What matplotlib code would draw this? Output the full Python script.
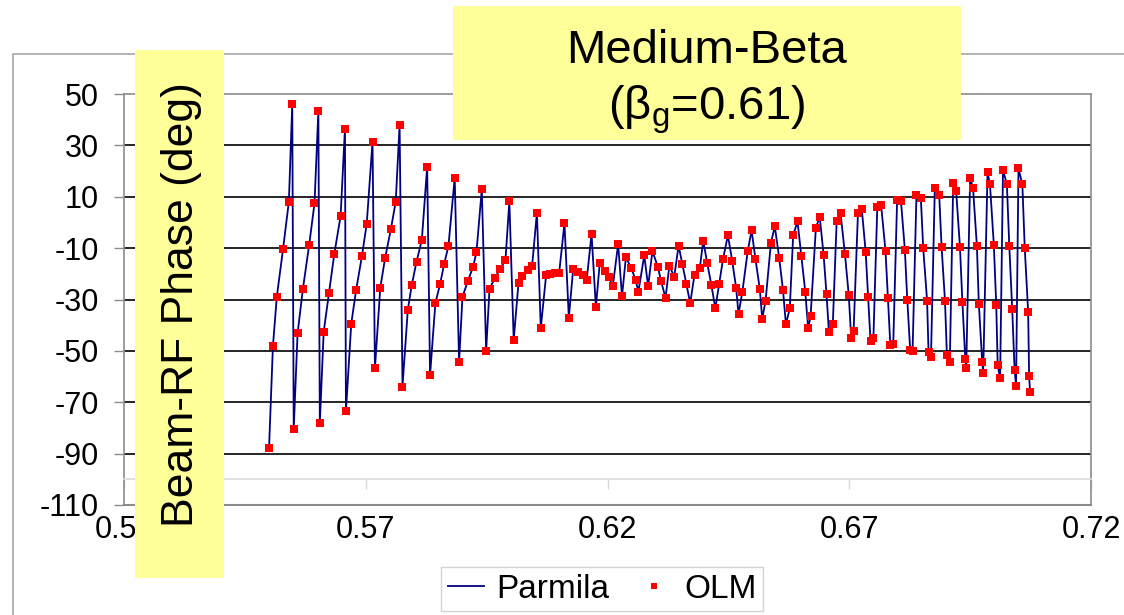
import matplotlib
matplotlib.use("Agg")
import matplotlib.pyplot as plt
from matplotlib.patches import Rectangle

plt.rcParams['font.family'] = ['Liberation Sans', 'DejaVu Sans']

# beta of each cell (x) and beam-RF phase in degrees (y)
beta = [
    0.5500, 0.5508, 0.5516, 0.5529, 0.5541, 0.5548, 0.5551, 0.5559, 0.5570, 0.5583,
    0.5594, 0.5602, 0.5605, 0.5613, 0.5624, 0.5635, 0.5648, 0.5657, 0.5659, 0.5670,
    0.5680, 0.5692, 0.5702, 0.5714, 0.5719, 0.5730, 0.5740, 0.5752, 0.5762, 0.5770,
    0.5776, 0.5787, 0.5795, 0.5805, 0.5816, 0.5827, 0.5833, 0.5844, 0.5854, 0.5862,
    0.5871, 0.5884, 0.5893, 0.5900, 0.5911, 0.5922, 0.5929, 0.5940, 0.5949, 0.5956,
    0.5967, 0.5978, 0.5989, 0.5997, 0.6006, 0.6016, 0.6024, 0.6035, 0.6044, 0.6054,
    0.6062, 0.6073, 0.6081, 0.6091, 0.6100, 0.6111, 0.6120, 0.6129, 0.6139, 0.6149,
    0.6157, 0.6167, 0.6176, 0.6184, 0.6195, 0.6203, 0.6211, 0.6222, 0.6230, 0.6238,
    0.6249, 0.6258, 0.6264, 0.6276, 0.6284, 0.6293, 0.6304, 0.6311, 0.6320, 0.6328,
    0.6338, 0.6347, 0.6355, 0.6363, 0.6371, 0.6380, 0.6391, 0.6398, 0.6406, 0.6415,
    0.6423, 0.6431, 0.6439, 0.6449, 0.6458, 0.6466, 0.6471, 0.6479, 0.6490, 0.6498,
    0.6506, 0.6515, 0.6520, 0.6527, 0.6538, 0.6546, 0.6555, 0.6563, 0.6569, 0.6577,
    0.6584, 0.6593, 0.6601, 0.6609, 0.6615, 0.6620, 0.6631, 0.6639, 0.6647, 0.6653,
    0.6658, 0.6666, 0.6674, 0.6682, 0.6691, 0.6699, 0.6704, 0.6709, 0.6718, 0.6726,
    0.6734, 0.6739, 0.6744, 0.6750, 0.6758, 0.6766, 0.6775, 0.6780, 0.6785, 0.6791,
    0.6799, 0.6807, 0.6815, 0.6820, 0.6826, 0.6831, 0.6839, 0.6848, 0.6853, 0.6861,
    0.6864, 0.6869, 0.6877, 0.6886, 0.6891, 0.6898, 0.6902, 0.6908, 0.6915, 0.6921,
    0.6929, 0.6934, 0.6940, 0.6942, 0.6950, 0.6956, 0.6964, 0.6968, 0.6975, 0.6977,
    0.6986, 0.6991, 0.6999, 0.7004, 0.7007, 0.7012, 0.7018, 0.7026, 0.7031, 0.7037,
    0.7042, 0.7045, 0.7050, 0.7058, 0.7063, 0.7070, 0.7072, 0.7074,
]
phase = [
    -87.7, -48.2, -29.0, -10.3, 8.1, 46.0, -80.6, -43.2, -25.9, -8.7,
    7.4, 43.4, -78.1, -42.6, -27.4, -12.2, 2.5, 36.5, -73.5, -39.5,
    -26.4, -13.2, -0.6, 31.4, -56.8, -25.5, -13.9, -2.6, 8.1, 37.9,
    -63.9, -34.0, -24.5, -15.3, -6.8, 21.7, -59.4, -31.4, -23.8, -16.3,
    -9.2, 17.4, -54.4, -29.0, -22.9, -17.3, -11.6, 12.9, -49.9, -25.8,
    -21.7, -18.1, -14.5, 8.3, -45.7, -23.4, -20.8, -18.7, -17.1, 3.8,
    -41.2, -20.6, -20.0, -19.7, -19.7, -0.3, -37.1, -18.1, -19.4, -20.6,
    -22.3, -4.5, -33.0, -15.7, -18.8, -21.4, -24.8, -8.4, -28.8, -13.6,
    -17.7, -22.3, -26.9, -12.8, -24.8, -11.1, -17.3, -22.9, -29.4, -16.8,
    -21.2, -9.0, -16.3, -23.8, -31.5, -20.3, -17.7, -7.1, -15.6, -24.5,
    -33.5, -23.9, -14.2, -5.0, -15.1, -25.4, -35.6, -26.9, -11.2, -3.1,
    -14.2, -25.9, -37.5, -30.4, -8.0, -1.5, -13.7, -26.4, -39.6, -33.5,
    -5.0, 0.4, -13.2, -26.9, -41.2, -36.6, -2.0, 2.1, -12.7, -28.0,
    -42.7, -39.6, 0.5, 3.6, -12.1, -28.4, -44.9, -42.2, 3.6, 5.1,
    -11.6, -29.0, -46.2, -44.8, 6.1, 6.6, -11.2, -29.6, -47.8, -47.4,
    8.7, 8.2, -10.6, -30.0, -49.5, -49.9, 10.8, 9.7, -10.1, -30.5,
    -50.4, -52.5, 13.4, 10.8, -9.6, -30.5, -51.8, -54.3, 15.3, 12.3,
    -9.6, -31.0, -53.1, -56.5, 17.4, 13.4, -9.2, -31.6, -54.4, -58.6,
    19.5, 14.9, -8.6, -32.0, -55.6, -60.6, 20.5, 14.8, -9.1, -33.6,
    -57.5, -63.6, 21.0, 14.8, -10.1, -34.7, -59.6, -66.1,
]

y_ticks = [-110, -90, -70, -50, -30, -10, 10, 30, 50]
x_ticks = [0.52, 0.57, 0.62, 0.67, 0.72]
x_labels = ['0.52', '0.57', '0.62', '0.67', '0.72']

W, H = 1124, 615
fig = plt.figure(figsize=(W / 100, H / 100), dpi=100)

# outer chart frame (runs off the right and bottom edges)
fig.patches.append(Rectangle((13 / W, -0.1), 1.2, 1.1 - 54 / H, transform=fig.transFigure,
                             fill=False, edgecolor='#a6a6a6', lw=1.2, zorder=0))

ax = fig.add_axes([124 / W, 1 - 505 / H, (1091 - 124) / W, (505 - 94) / H])
ax.set_xlim(0.52, 0.72)
ax.set_ylim(-110, 50)

# black horizontal gridlines between the borders
for v in y_ticks[1:-1]:
    ax.axhline(v, color='black', lw=1.2, zorder=1)

ax.plot(beta, phase, color='#000080', lw=1.3, label='Parmila', zorder=3)
ax.plot(beta, phase, ls='none', marker='s', ms=6, color='#ff0000', mew=0,
        label='OLM', zorder=4)

# borders: x axis crosses at -100, plot area boxed in grey
for side in ['top', 'left', 'right']:
    ax.spines[side].set_color('#8c8c8c')
    ax.spines[side].set_linewidth(1.2)
ax.spines['bottom'].set_position(('data', -100))
ax.spines['bottom'].set_color('#dadada')
ax.spines['bottom'].set_linewidth(1.2)
ax.axhline(-110, color='#8c8c8c', lw=1.5, clip_on=False, zorder=2)

ax.set_yticks(y_ticks)
ax.set_yticklabels([str(v) for v in y_ticks])
ax.set_xticks(x_ticks)
ax.set_xticklabels(x_labels)
ax.tick_params(axis='y', direction='out', length=7, width=1, color='#8c8c8c',
               labelsize=22, pad=11)
ax.tick_params(axis='x', direction='out', length=7, width=1, color='#dadada',
               labelsize=22, pad=19)

leg = ax.legend(loc='center', bbox_to_anchor=(602 / W, 1 - 589 / H),
                bbox_transform=fig.transFigure, ncol=2, fontsize=24,
                frameon=True, fancybox=False, edgecolor='#c8c8c8',
                handlelength=1.1, handletextpad=0.35, columnspacing=0.8,
                borderpad=0.2, borderaxespad=0, markerscale=0.75)
leg.get_frame().set_linewidth(1.0)

# yellow box behind the y-axis title
fig.patches.append(Rectangle((135 / W, 1 - 578 / H), 89 / W, 528 / H,
                             transform=fig.transFigure, facecolor='#ffff99',
                             edgecolor='none', zorder=5))
fig.text(182 / W, 1 - 305 / H, 'Beam-RF Phase (deg)', rotation=90,
         ha='center', va='center', fontsize=32, zorder=6)

# yellow title box
fig.patches.append(Rectangle((453 / W, 1 - 140 / H), 508 / W, 134 / H,
                             transform=fig.transFigure, facecolor='#ffff99',
                             edgecolor='none', zorder=5))
fig.text(707 / W, 1 - 63 / H, 'Medium-Beta', ha='center', va='baseline',
         fontsize=34, zorder=6)
fig.text(707 / W, 1 - 120 / H, r'(β$_{\mathregular{g}}$=0.61)', ha='center',
         va='baseline', fontsize=34, zorder=6)

fig.savefig('out.png', dpi=100)
